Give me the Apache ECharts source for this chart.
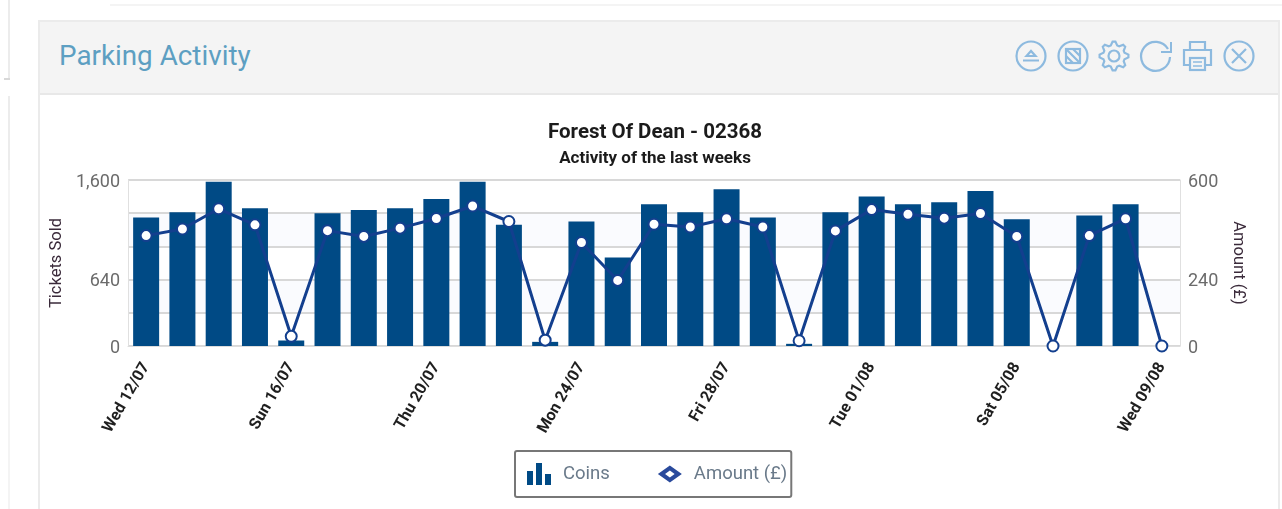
<!DOCTYPE html>
<html>
<head>
<meta charset="utf-8">
<title>Parking Activity</title>
<script src="https://cdn.jsdelivr.net/npm/echarts@6/dist/echarts.min.js"></script>
<style>
  html, body { margin: 0; padding: 0; width: 1282px; height: 509px; overflow: hidden; background: #fff; font-family: Roboto, sans-serif; }
  .edge { position: absolute; background: #ececec; }
  #panel { position: absolute; left: 38px; top: 20px; width: 1238px; height: 500px; border: 2px solid #ebebeb; box-sizing: content-box; }
  #head { position: absolute; left: 0; top: 0; right: 0; height: 71px; background: #f4f4f4; border-bottom: 2px solid #e8e8e8; }
  #head h2 { position: absolute; left: 19px; top: 16px; margin: 0; font-size: 27.8px; font-weight: 400; color: #5d9fc2; line-height: 36px; }
  #icons { position: absolute; left: 0; top: 0; }
  #chart { position: absolute; left: 0; top: 0; width: 1282px; height: 509px; }
</style>
</head>
<body>
<div class="edge" style="left:110px;top:4px;width:1172px;height:2px;background:#f4f4f4"></div>
<div class="edge" style="left:8px;top:0;width:2px;height:78px"></div>
<div class="edge" style="left:4px;top:78px;width:6px;height:2px;background:#d8d8d8"></div>
<div class="edge" style="left:8px;top:96px;width:2px;height:74px"></div>
<div class="edge" style="left:8px;top:170px;width:2px;height:339px;background:#f4f4f4"></div>
<div id="panel">
  <div id="head"><h2>Parking Activity</h2></div>
</div>
<svg id="icons" width="1282" height="100" fill="none" stroke="#8dbadf" stroke-width="2.2">
  <circle cx="1031" cy="56" r="14.5"/>
  <path d="M1023 60.5h16M1026.500 56l4.500-5 4.500 5z"/>
  <circle cx="1073" cy="56" r="14.5"/>
  <rect x="1066" y="49" width="14" height="14"/>
  <path d="M1066 49l14 14M1073 49l7 7M1066 56l7 7"/>
  <circle cx="1114" cy="56" r="5.500"/>
  <path id="gear"/>
  <path d="M1168 49a14.500 14.500 0 1 0 2 8"/>
  <path d="M1171 42v10h-10" stroke-width="2"/>
  <path d="M1190 50v-8h15v8M1190 65h-6v-15h27v15h-6"/>
  <rect x="1190" y="58" width="15" height="12"/>
  <path d="M1193 62h9M1193 66h9" stroke-width="1.6"/>
  <circle cx="1239" cy="56" r="14.500"/>
  <path d="M1232 49l14 14M1246 49l-14 14"/>
</svg>
<div id="chart"></div>
<script>
var categories = ['Wed 12/07', 'Thu 13/07', 'Fri 14/07', 'Sat 15/07', 'Sun 16/07', 'Mon 17/07', 'Tue 18/07', 'Wed 19/07',
  'Thu 20/07', 'Fri 21/07', 'Sat 22/07', 'Sun 23/07', 'Mon 24/07', 'Tue 25/07', 'Wed 26/07', 'Thu 27/07',
  'Fri 28/07', 'Sat 29/07', 'Sun 30/07', 'Mon 31/07', 'Tue 01/08', 'Wed 02/08', 'Thu 03/08', 'Fri 04/08',
  'Sat 05/08', 'Sun 06/08', 'Mon 07/08', 'Tue 08/08', 'Wed 09/08'];
var coins = [1238, 1290, 1584, 1328, 53, 1280, 1312, 1328, 1417, 1584, 1168, 40, 1199, 853, 1367, 1290, 1511, 1238, 21,
  1290, 1440, 1367, 1386, 1494, 1222, 0, 1257, 1367, 0];
var amount = [399, 423, 496, 438, 35, 417, 396, 426, 461, 506, 450, 21, 374, 237, 440, 430, 460, 430, 19,
  416, 493, 476, 462, 479, 396, 0, 399, 460, 0];
var leftTickLabels = [0, 640, 1600];
var rightTickLabels = [0, 240, 600];

// gear outline for the header icon
var gearPath = '';
for (var t = 0; t < 32; t++) {
  var r = (t % 4 === 0 || t % 4 === 1) ? 14.5 : 11;
  var a = (t - 0.5) * Math.PI / 16;
  gearPath += (t ? 'L' : 'M') + (1114 + r * Math.cos(a)).toFixed(1) + ' ' + (56 + r * Math.sin(a)).toFixed(1);
}
document.getElementById('gear').setAttribute('d', gearPath + 'z');

var chart = echarts.init(document.getElementById('chart'));
var fontFamily = 'Roboto, sans-serif';

// axis labels sit a touch below their gridline in the reference
var tickRich = { t: { padding: [4, 0, 0, 0], fontFamily: fontFamily, fontSize: 18, color: '#6b6b6b' } };

chart.setOption({
  animation: false,
  backgroundColor: 'transparent',
  textStyle: { fontFamily: fontFamily },
  title: [
    {
      text: 'Forest Of Dean - 02368',
      left: 650,
      top: 117,
      textAlign: 'center',
      textStyle: { fontFamily: fontFamily, fontSize: 20.5, fontWeight: 'bold', color: '#1b1b1b' }
    },
    {
      text: 'Activity of the last weeks',
      left: 650,
      top: 145,
      textAlign: 'center',
      textStyle: { fontFamily: fontFamily, fontSize: 17, fontWeight: 'bold', color: '#1b1b1b' }
    }
  ],
  grid: { left: 128, right: 102, top: 180, bottom: 163, show: true, borderWidth: 0 },
  legend: {
    left: 515,
    top: 451,
    padding: [12, 4, 12, 12],
    itemGap: 48,
    itemWidth: 24,
    itemHeight: 22,
    symbolSize: 21,
    borderColor: '#777777',
    borderWidth: 2,
    borderRadius: 2,
    textStyle: { fontFamily: fontFamily, fontSize: 18.5, color: '#6a7a8a', padding: [0, 0, 0, 7] },
    data: [
      { name: 'Coins', icon: 'path://M0 8h6v14H0z M9 0h6v22H9z M18 11h6v11h-6z', symbolKeepAspect: false },
      {
        name: 'Amount (£)',
        icon: 'path://M0 7 L10 0 L20 7 L10 14 Z M6 7 L10 10 L14 7 L10 4 Z',
        itemStyle: { color: '#2a4a9c', borderWidth: 0 },
        lineStyle: { opacity: 0 }
      }
    ]
  },
  xAxis: {
    type: 'category',
    data: categories,
    axisLine: { lineStyle: { color: '#dddddd', width: 1 } },
    axisTick: { show: false },
    axisLabel: {
      interval: 3,
      rotate: 60,
      margin: 18,
      fontFamily: fontFamily,
      fontSize: 16,
      fontWeight: 'bold',
      color: '#1f1f1f'
    }
  },
  yAxis: [
    {
      type: 'value',
      min: 0,
      max: 1600,
      interval: 320,
      name: 'Tickets Sold',
      nameLocation: 'middle',
      nameGap: 62,
      nameTextStyle: { fontFamily: fontFamily, fontSize: 16.5, color: '#3a2a3a' },
      axisLine: { show: true, lineStyle: { color: '#e0e0e0', width: 1 } },
      axisTick: { show: false },
      axisLabel: {
        margin: 8,
        rich: tickRich,
        formatter: function (v) {
          return leftTickLabels.indexOf(v) >= 0 ? '{t|' + echarts.format.addCommas(v) + '}' : '';
        }
      },
      splitLine: { lineStyle: { color: '#d8d8d8', width: 2 } },
      splitArea: { show: true, areaStyle: { color: ['#ffffff', '#fafbfe'] } }
    },
    {
      type: 'value',
      min: 0,
      max: 600,
      interval: 120,
      name: 'Amount (£)',
      nameLocation: 'middle',
      nameGap: 44,
      nameRotate: -90,
      nameTextStyle: { fontFamily: fontFamily, fontSize: 16.5, color: '#3a2a3a' },
      axisLine: { show: true, lineStyle: { color: '#e0e0e0', width: 1 } },
      axisTick: { show: false },
      axisLabel: {
        margin: 8,
        rich: tickRich,
        formatter: function (v) {
          return rightTickLabels.indexOf(v) >= 0 ? '{t|' + v + '}' : '';
        }
      },
      splitLine: { show: false }
    }
  ],
  series: [
    {
      name: 'Coins',
      type: 'bar',
      data: coins,
      barWidth: 26,
      itemStyle: { color: '#004a85' }
    },
    {
      name: 'Amount (£)',
      type: 'line',
      yAxisIndex: 1,
      data: amount,
      symbol: 'circle',
      symbolSize: 11,
      showAllSymbol: true,
      lineStyle: { color: '#133f8e', width: 3 },
      itemStyle: { color: '#ffffff', borderColor: '#133f8e', borderWidth: 2 }
    }
  ]
});
</script>
</body>
</html>
